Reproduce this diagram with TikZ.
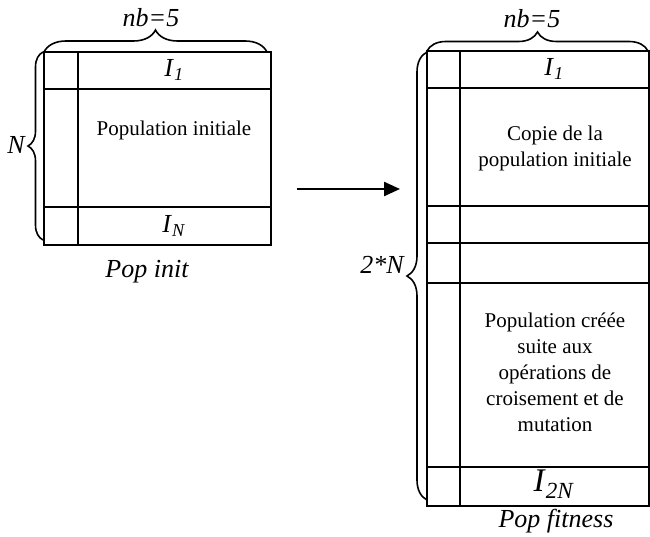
\documentclass[tikz,border=0pt]{standalone}
\usepackage{fontspec}
\setmainfont{Liberation Serif}
\usetikzlibrary{arrows.meta,decorations.pathreplacing}

\newcommand{\Ind}[1]{\textit{I}\textsubscript{\textit{#1}}}

\begin{document}
\begin{tikzpicture}[
  x=1pt,y=-1pt,
  grid/.style={draw, line width=2.6pt},
  br/.style={decorate, decoration={brace, amplitude=#1}, line width=1.6pt},
  lbl/.style={font=\fontsize{26}{30}\selectfont\itshape},
  ix/.style={font=\fontsize{26}{28}\selectfont},
  cell/.style={font=\fontsize{21}{26}\selectfont, align=center}
]
  \useasboundingbox (0,0) rectangle (650,537);

  % Pop init
  \draw[grid] (44,52) rectangle (271,245);
  \draw[grid] (78,52) -- (78,245);
  \foreach \y in {89,207} \draw[grid] (44,\y) -- (271,\y);

  \node[ix]   (i1)  at (174,70)  {\Ind{1}};
  \node[cell] (pi)  at (174,130) {Population initiale};
  \node[ix]   (iN)  at (174,226) {\Ind{N}};

  \draw[br=22pt] (44,52) -- (267,52);
  \draw[br=15pt] (43,240) -- (43,52);
  \node[lbl] (nb1) at (151,18)  {nb=5};
  \node[lbl] (n1)  at (16,145)  {N};
  \node[lbl] (pop1) at (147,272) {Pop init};

  % Pop fitness
  \draw[grid] (427,51) rectangle (649,506);
  \draw[grid] (460,51) -- (460,506);
  \foreach \y in {88,206,243,283,467} \draw[grid] (427,\y) -- (649,\y);

  \node[ix]   (j1)  at (554,69)  {\Ind{1}};
  \node[cell] (cp)  at (555,148) {Copie de la\\population initiale};
  \node[cell] (pc)  at (555,372) {Population créée\\suite aux\\opérations de\\croisement et de\\mutation};
  \node[font=\fontsize{33}{35}\selectfont] (j2N) at (554,484) {\Ind{2N}};

  \draw[br=19pt] (427,51) -- (648,51);
  \draw[br=20pt] (427,500) -- (427,52);
  \node[lbl] (nb2) at (532,19)  {nb=5};
  \node[lbl] (n2)  at (382,265) {2*N};
  \node[lbl] (pop2) at (556,521) {Pop fitness};

  % copy arrow
  \coordinate (a1) at (297,189);
  \coordinate (a2) at (400,189);
  \draw[line width=2.4pt, -{Triangle[length=16pt,width=14pt]}] (a1) -- (a2);
\end{tikzpicture}
\end{document}
